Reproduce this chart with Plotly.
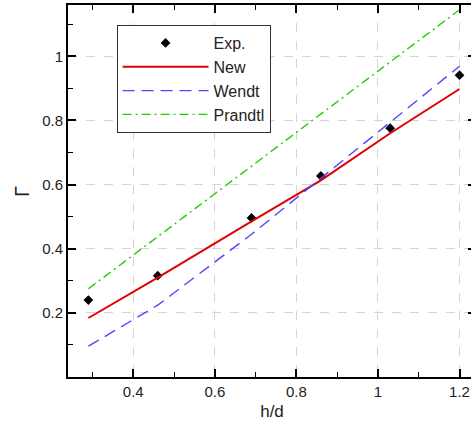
import plotly.graph_objects as go

# Data
h_d = [0.29, 0.46, 0.69, 0.86, 1.03, 1.2]
exp_vals = [0.24, 0.316, 0.496, 0.627, 0.776, 0.941]
new_vals = [0.184, 0.31, 0.485, 0.613, 0.76, 0.898]
wendt_vals = [0.096, 0.224, 0.445, 0.62, 0.797, 0.969]
prandtl_vals = [0.275, 0.438, 0.658, 0.820, 0.983, 1.145]

x_ticks = [0.4, 0.6, 0.8, 1.0, 1.2]
x_labels = ["0.4", "0.6", "0.8", "1", "1.2"]
y_ticks = [0.2, 0.4, 0.6, 0.8, 1.0]
y_labels = ["0.2", "0.4", "0.6", "0.8", "1"]

FONT = "Liberation Sans, Arial, sans-serif"

fig = go.Figure()
fig.add_trace(go.Scatter(x=h_d, y=exp_vals, mode="markers", name="Exp.",
                         marker=dict(symbol="diamond", size=7.5, color="black")))
fig.add_trace(go.Scatter(x=h_d, y=new_vals, mode="lines", name="New",
                         line=dict(color="#e00000", width=2)))
fig.add_trace(go.Scatter(x=h_d, y=wendt_vals, mode="lines", name="Wendt",
                         line=dict(color="#4848ff", width=1.4, dash="12px,7px")))
fig.add_trace(go.Scatter(x=h_d, y=prandtl_vals, mode="lines", name="Prandtl",
                         line=dict(color="#22cc00", width=1.4, dash="9px,4px,2px,4px")))

axis_common = dict(
    showline=True, linecolor="black", linewidth=2, mirror="ticks",
    ticks="inside", ticklen=8, tickwidth=1.5, tickcolor="black",
    showgrid=True, gridcolor="#d4d4d4", griddash="dash", gridwidth=1,
    zeroline=False, automargin=False,
    tickfont=dict(family=FONT, size=15, color="#222"),
)

fig.update_xaxes(range=[0.24, 1.2404], tickvals=x_ticks, ticktext=x_labels,
                 minor=dict(ticks="inside", dtick=0.1, tick0=0.3, ticklen=5,
                            tickwidth=1, tickcolor="black", showgrid=False),
                 title=dict(text="h/d", font=dict(family=FONT, size=17, color="#222"), standoff=6),
                 **axis_common)
fig.update_yaxes(range=[0.0, 1.16], tickvals=y_ticks, ticktext=y_labels,
                 minor=dict(ticks="inside", dtick=0.1, tick0=0.1, ticklen=5,
                            tickwidth=1, tickcolor="black", showgrid=False),
                 **axis_common)

fig.add_annotation(text="Γ", xref="paper", yref="paper", x=-0.113, y=0.5,
                   xanchor="center", yanchor="middle", showarrow=False, textangle=-90,
                   font=dict(family=FONT, size=20, color="#222"))

fig.update_layout(
    width=476, height=423,
    margin=dict(l=68, r=0, t=5, b=46),
    paper_bgcolor="white", plot_bgcolor="white",
    showlegend=True,
    legend=dict(x=0.119, y=0.946, xanchor="left", yanchor="top",
                bgcolor="white", bordercolor="#333", borderwidth=1,
                font=dict(family=FONT, size=16, color="#222"),
                itemwidth=86, tracegroupgap=0),
)

fig.write_html(
    "out.html",
    post_script="document.documentElement.style.overflow='hidden';document.body.style.overflow='hidden';",
)
